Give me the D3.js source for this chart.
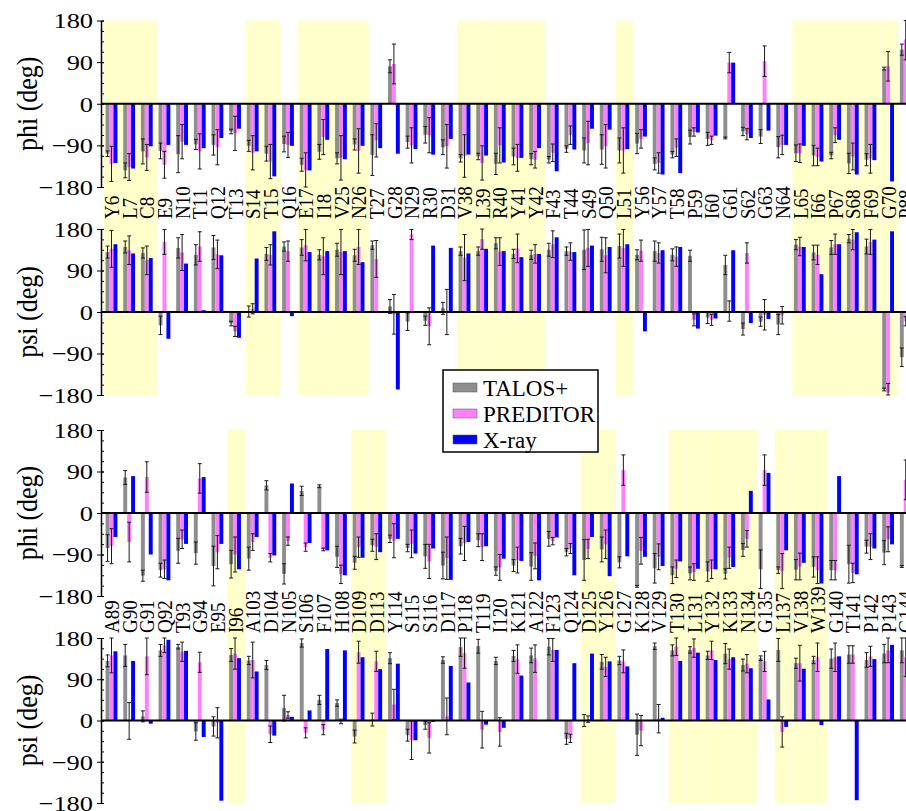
<!DOCTYPE html>
<html>
<head>
<meta charset="utf-8">
<script src="https://cdn.jsdelivr.net/npm/d3@7"></script>
<style>
  body { margin: 0; background: #fff; }
  svg { display: block; }
</style>
</head>
<body>
<svg id="chart" width="906" height="811"></svg>
<script>
// ---- residues (two rows) ----
const residuesA = ["Y6","L7","C8","E9","N10","T11","Q12","T13","S14","T15","Q16","E17","I18","V25","N26","T27","G28","N29","R30","D31","V38","L39","R40","Y41","Y42","F43","T44","S49","Q50","L51","Y56","Y57","T58","P59","I60","G61","S62","G63","N64","L65","I66","P67","S68","F69","G70","P88"];
const residuesB = ["A89","G90","G91","Q92","T93","G94","E95","I96","A103","D104","N105","S106","F107","H108","D109","D113","Y114","S115","S116","D117","P118","T119","I120","K121","A122","F123","Q124","D125","Y126","G127","K128","V129","T130","L131","Y132","K133","N134","G135","L137","V138","W139","G140","T141","P142","P143","G144"];

// residues with shaded background
const shadedA = ["Y6","L7","C8","S14","T15","E17","I18","V25","N26","V38","L39","R40","Y41","Y42","L51","L65","I66","P67","S68","F69","G70"];
const shadedB = ["I96","D109","D113","D125","Y126","T130","L131","Y132","K133","N134","L137","V138","W139"];

const seriesNames = ["TALOS+", "PREDITOR", "X-ray"];
const yTicks = [-180, -90, 0, 90, 180];

// ---- row A: phi ----
const phiA_talos = [-108,-144,-103,-102,-109,-88,-89,-60,-91,-108,-87,-132,-104,-118,-88,-111,81,-83,-67,-94,-118,-114,-130,-114,-120,-121,-98,-101,-99,-101,-86,-130,-110,-72,-76,-74,-60,-71,-94,-107,-112,-112,-129,-121,76,117];
const phiA_talosErr = [6,16,27,17,40,11,22,5,12,16,17,14,16,12,12,44,14,13,18,16,8,7,23,18,12,7,7,27,32,27,22,13,7,15,14,2,9,15,23,18,22,7,22,13,3,12];
const phiA_preditor = [-130,-137,-116,-132,-82,-103,-94,-64,-106,-125,-89,-144,-72,-117,-102,-79,86,-90,-68,-92,-113,-128,-90,-117,-121,-106,-68,-85,-92,-101,-76,-128,-95,-61,-79,89,-66,92,-89,-107,-115,-68,-114,-119,81,139];
const phiA_preditorErr = [38,29,28,29,37,38,38,37,37,37,27,38,38,48,48,36,43,38,38,47,46,37,38,29,18,19,20,47,47,49,20,22,19,9,9,22,12,33,21,20,19,16,29,31,32,44];
const phiA_xray = [-128,-140,-92,-89,-89,-96,-74,-54,-103,-157,-91,-144,-78,-120,-91,-96,-108,-98,-110,-76,-110,-112,-127,-117,-96,-146,-99,-54,-56,-98,-71,-153,-150,-62,-69,89,-74,-58,-89,-91,-125,-78,-153,-122,-168,null];

// ---- row A: psi ----
const psiA_talos = [130,141,128,-29,139,124,140,-25,1,126,142,140,124,135,123,145,12,-21,-19,8,132,132,149,126,124,135,132,135,136,143,124,132,124,122,-12,102,-37,-21,-27,146,129,140,159,142,-168,-98];
const psiA_talosErr = [13,13,11,20,22,22,26,5,12,14,10,17,11,14,13,9,15,19,10,13,9,9,12,10,10,14,9,43,26,26,11,22,13,12,13,21,13,10,22,11,16,15,9,16,3,20];
const psiA_preditor = [137,134,112,152,129,142,125,-42,7,124,132,145,121,130,141,115,-5,168,-31,0,118,158,131,138,126,147,131,139,123,139,133,128,120,-17,-17,2,128,-6,-7,142,124,147,157,152,-175,-20];
const psiA_preditorErr = [40,31,31,27,39,32,31,11,11,22,22,34,40,49,38,40,43,11,40,49,50,22,30,31,20,29,19,40,38,40,23,22,21,13,12,22,22,33,19,20,21,22,22,27,20,10];
const psiA_xray = [147,127,117,-58,105,4,123,-56,116,175,-9,130,132,132,108,null,-168,null,144,139,127,137,132,119,126,162,130,144,141,147,-42,134,141,-36,-14,134,-24,-15,null,141,82,147,173,157,175,null];

// ---- row B: phi ----
const phiB_talos = [-76,77,-136,-124,-82,-87,-115,-111,-99,60,-132,48,58,-95,-108,-70,-56,-76,-94,-114,-72,-59,-126,-114,-116,-56,-85,-102,-79,-107,-159,-120,-135,-131,-127,-132,-80,-122,-124,-123,-117,-124,-111,-73,-86,-116];
const phiB_talosErr = [29,15,12,15,27,24,43,30,25,10,22,10,3,23,14,13,8,8,26,29,17,14,9,13,30,16,8,44,27,12,2,32,18,14,21,11,14,42,7,22,22,21,41,14,26,2];
const phiB_preditor = [-72,-63,78,-122,-57,75,-85,-90,-63,-97,-61,-74,-79,-133,-74,-73,-60,-67,-105,-98,-66,-74,-118,-102,-93,-61,-77,-78,-68,93,-82,-95,-121,-128,-122,-97,-56,93,-126,-116,-124,-124,-130,-73,-57,72];
const phiB_preditorErr = [38,43,33,20,20,32,36,38,18,9,9,9,3,20,22,28,37,30,37,46,37,29,28,28,28,8,11,21,31,33,29,28,19,18,20,23,18,33,38,29,29,21,21,28,27,43];
const phiB_xray = [-52,80,-90,-146,-67,78,-67,-122,-52,-92,64,-65,-81,-135,-97,-85,-56,-88,-77,-145,-63,-72,-99,-104,-146,-53,-135,-52,-137,-94,-95,-115,-105,-121,-122,-117,48,87,-81,-108,-153,80,-133,-77,-68,null];

// ---- row B: psi ----
const psiB_talos = [130,142,9,153,161,-24,-13,143,131,121,27,169,45,38,-35,2,136,-32,-10,132,160,162,130,141,142,161,-40,0,128,131,-31,162,153,154,142,146,121,136,154,125,132,135,144,132,146,153];
const psiB_talosErr = [13,24,12,13,5,19,21,14,9,10,28,9,10,7,14,14,12,13,9,7,20,15,8,12,16,18,12,13,16,9,45,7,12,7,9,22,13,5,25,11,8,21,19,16,20,27];
const psiB_preditor = [142,-1,140,164,150,127,-5,146,132,-30,12,-27,-20,-2,149,129,35,-43,-38,9,147,-20,-25,134,135,154,-39,3,117,129,-22,4,161,158,153,134,124,129,-25,125,138,138,144,140,153,138];
const psiB_preditorErr = [38,40,40,16,21,22,33,34,39,18,7,11,11,5,24,22,33,42,33,40,33,40,31,31,30,25,9,7,21,25,33,31,19,20,20,22,20,22,33,39,31,31,19,22,27,42];
const psiB_xray = [151,130,-7,176,152,-36,-175,136,107,-33,8,22,156,153,138,112,124,-43,-3,119,83,-9,-16,98,null,154,125,146,129,118,-1,6,130,148,132,138,114,46,-14,113,-10,140,-174,134,165,null];

// ---- layout & styling ----
const W = 906, H = 811;
const plotLeft = 104, step = 17.65, axisX = 101;
const colors = { talos: "#8e8e8e", preditor: "#ff80ff", xray: "#0000ff" };
const shade = "#ffffcc";
const serif = "'Liberation Serif', 'Times New Roman', serif";

const rows = [
  { residues: residuesA, shaded: shadedA, labelY: 219,
    panels: [
      { title: "phi (deg)", top: 20.5, bottom: 187, talos: phiA_talos, talosErr: phiA_talosErr, preditor: phiA_preditor, preditorErr: phiA_preditorErr, xray: phiA_xray },
      { title: "psi (deg)", top: 229, bottom: 395, talos: psiA_talos, talosErr: psiA_talosErr, preditor: psiA_preditor, preditorErr: psiA_preditorErr, xray: psiA_xray }
    ] },
  { residues: residuesB, shaded: shadedB, labelY: 633,
    panels: [
      { title: "phi (deg)", top: 430, bottom: 596, talos: phiB_talos, talosErr: phiB_talosErr, preditor: phiB_preditor, preditorErr: phiB_preditorErr, xray: phiB_xray },
      { title: "psi (deg)", top: 638, bottom: 803, talos: psiB_talos, talosErr: psiB_talosErr, preditor: psiB_preditor, preditorErr: psiB_preditorErr, xray: psiB_xray }
    ] }
];

const svg = d3.select("#chart");
svg.append("rect").attr("width", W).attr("height", H).attr("fill", "#fff");

const sub = d3.scaleBand().domain(["talos", "preditor", "xray"]).range([1.6, 13.4]);
const barW = sub.bandwidth();
const minorTicks = d3.range(-180, 180.01, 22.5);

rows.forEach(row => {
  const x = d3.scaleBand().domain(row.residues)
    .range([plotLeft, plotLeft + row.residues.length * step]);
  const g = svg.append("g");
  const rowTop = row.panels[0].top, rowBottom = row.panels[1].bottom;

  // shaded columns spanning both panels of the row
  g.append("g").selectAll("rect").data(row.shaded).join("rect")
    .attr("x", d => x(d)).attr("width", x.bandwidth())
    .attr("y", rowTop).attr("height", rowBottom - rowTop)
    .attr("fill", shade);

  row.panels.forEach(p => {
    const y = d3.scaleLinear().domain([-180, 180]).range([p.bottom, p.top]);
    const clampY = v => y(Math.max(-180, Math.min(180, v)));
    const pg = g.append("g");

    const series = [
      { key: "talos", vals: p.talos, err: p.talosErr },
      { key: "preditor", vals: p.preditor, err: p.preditorErr },
      { key: "xray", vals: p.xray, err: null }
    ];

    series.forEach(s => {
      const data = row.residues.map((r, i) => ({ r, v: s.vals[i] }))
        .filter(d => d.v !== null && d.v !== undefined);
      pg.append("g").selectAll("rect").data(data).join("rect")
        .attr("x", d => x(d.r) + sub(s.key))
        .attr("width", barW)
        .attr("y", d => y(Math.max(0, d.v)))
        .attr("height", d => Math.abs(y(d.v) - y(0)))
        .attr("fill", colors[s.key]);
    });

    // error bars for the two predicted series
    series.filter(s => s.err).forEach(s => {
      const data = row.residues.map((r, i) => ({ r, v: s.vals[i], e: s.err[i] }))
        .filter(d => d.v !== null && d.e);
      const eg = pg.append("g").attr("stroke", "#1a1a1a").attr("stroke-width", 1);
      const cx = d => x(d.r) + sub(s.key) + barW / 2;
      eg.selectAll("line.v").data(data).join("line").attr("class", "v")
        .attr("x1", cx).attr("x2", cx)
        .attr("y1", d => clampY(d.v - d.e)).attr("y2", d => clampY(d.v + d.e));
      ["lo", "hi"].forEach(side => {
        eg.selectAll("line." + side).data(data).join("line").attr("class", side)
          .attr("x1", d => cx(d) - 2).attr("x2", d => cx(d) + 2)
          .attr("y1", d => clampY(side === "lo" ? d.v - d.e : d.v + d.e))
          .attr("y2", d => clampY(side === "lo" ? d.v - d.e : d.v + d.e));
      });
    });

    // zero line
    pg.append("line").attr("x1", axisX).attr("x2", W)
      .attr("y1", y(0)).attr("y2", y(0))
      .attr("stroke", "#000").attr("stroke-width", 2);

    // y axis: major ticks with labels, minor ticks inside
    const ax = pg.append("g").attr("transform", `translate(${axisX},0)`)
      .call(d3.axisLeft(y).tickValues(yTicks).tickSizeInner(4).tickSizeOuter(0).tickPadding(4));
    ax.select(".domain").attr("stroke", "#000").attr("stroke-width", 1.5);
    ax.selectAll(".tick line").attr("stroke", "#000").attr("x2", -4).attr("x1", 3);
    ax.selectAll(".tick text")
      .attr("font-family", serif).attr("font-size", 22).attr("fill", "#000")
      .attr("dy", "0.34em")
      .attr("transform", function () {
        const tx = +this.getAttribute("x");
        return `translate(${tx},0) scale(1.2,1) translate(${-tx},0)`;
      });
    const mx = pg.append("g").attr("transform", `translate(${axisX},0)`)
      .call(d3.axisRight(y).tickValues(minorTicks).tickSize(3).tickFormat(""));
    mx.select(".domain").remove();
    mx.selectAll(".tick line").attr("stroke", "#000");

    // axis title
    pg.append("text")
      .attr("transform", `translate(27,${(p.top + p.bottom) / 2}) scale(1.15,1) rotate(-90)`)
      .attr("text-anchor", "middle")
      .attr("dy", "0.33em")
      .attr("font-family", serif).attr("font-size", 26).attr("fill", "#000")
      .text(p.title);
  });

  // residue labels between the phi and psi panels
  g.append("g").selectAll("g").data(row.residues).join("g")
    .attr("transform", d => `translate(${x(d) + sub("preditor") + barW / 2},${row.labelY}) scale(1.15,1) rotate(-90)`)
    .append("text")
    .attr("dy", "0.35em")
    .attr("font-family", serif).attr("font-size", 19).attr("fill", "#000")
    .text(d => d);
});

// legend
const legend = svg.append("g").attr("transform", "translate(443,370)");
legend.append("rect").attr("width", 155).attr("height", 82)
  .attr("fill", "#fff").attr("stroke", "#000").attr("stroke-width", 1.5);
const legendKeys = ["talos", "preditor", "xray"];
seriesNames.forEach((name, i) => {
  const ly = 17.5 + i * 26;
  legend.append("rect").attr("x", 10).attr("y", ly - 4.5).attr("width", 24).attr("height", 9)
    .attr("fill", colors[legendKeys[i]]).attr("stroke", "#555").attr("stroke-width", 0.5);
  legend.append("text").attr("x", 40).attr("y", ly).attr("dy", "0.35em")
    .attr("font-family", serif).attr("font-size", 23).attr("fill", "#000")
    .text(name);
});
</script>
</body>
</html>
